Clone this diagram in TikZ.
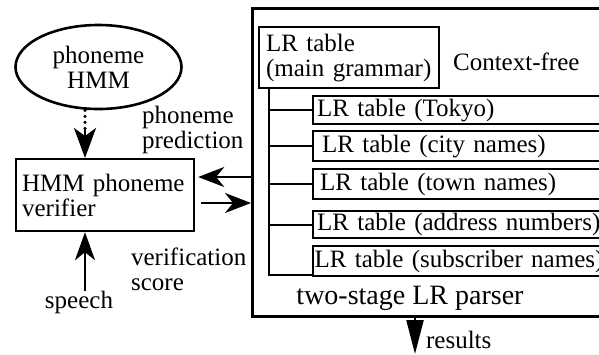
\documentclass[tikz,border=0pt]{standalone}
\usepackage{fontspec}
\setmainfont{Liberation Serif}
\usetikzlibrary{arrows.meta,shapes.geometric}
\begin{document}
\begin{tikzpicture}[x=1pt,y=-1pt,line width=2.2pt,
  txt/.style={font=\fontsize{25}{25}\selectfont,inner sep=0pt,align=left},
  box/.style={draw,rectangle,txt},
  subtab/.style={box,anchor=north west,text width=300pt,inner xsep=4pt,inner ysep=0pt},
  arr/.style={-{Stealth[length=26pt,width=20pt,inset=8pt]}},
]
\useasboundingbox (0,0) rectangle (599,354);
\clip (0,0) rectangle (599,354);

% two-stage LR parser (right half)
\node[draw,line width=2.6pt,rectangle,anchor=north west,minimum width=380pt,
      minimum height=308pt,inner sep=0pt] (parser) at (251,7) {};
\node[box,anchor=north west,text width=166pt,inner xsep=7pt,minimum height=61pt]
      (main) at (258,26) {LR table\\(main grammar)};
\node[txt,anchor=west] (cf) at (452,62) {Context-free};
\node[subtab,minimum height=28pt] (tokyo)   at (312,95)  {LR table (Tokyo)};
\node[subtab,minimum height=30pt] (city)    at (312,130) {\hspace*{5pt}LR table (city names)};
\node[subtab,minimum height=30pt] (town)    at (312,168) {\hspace*{3pt}LR table (town names)};
\node[subtab,minimum height=27pt] (address) at (312,210) {LR table (address numbers)};
\node[subtab,minimum height=30pt] (subscr)  at (312,245) {\hspace*{-2.5pt}LR table (subscriber names)};
\node[txt,font=\fontsize{28}{28}\selectfont] (title) at (410,298) {two-stage LR parser};

% tree joining the sub-grammar tables to the main grammar
\coordinate (tx) at (269,0);
\draw (main.south -| tx) |- ([yshift=2pt]subscr.south west);
\foreach \b in {tokyo,city,town,address} \draw (\b.west) -- (\b.west -| tx);

% left half: phoneme model and verifier
\node[draw,ellipse,line width=2.6pt,minimum width=166pt,minimum height=84pt,
      txt,align=center] (hmm) at (98.5,67) {phoneme\\HMM};
\node[box,anchor=north west,text width=166pt,inner xsep=6pt,minimum height=72pt]
      (ver) at (15,158) {HMM~phoneme\\verifier};
\coordinate (va) at (85,0);
\draw[line width=3.5pt,line cap=round,dash pattern=on 0pt off 6pt]
      (hmm.south -| va) -- ([yshift=28pt]ver.north -| va);
\draw[-{Stealth[length=30pt,width=22pt,inset=8pt]}]
      ([yshift=30pt]ver.north -| va) -- (ver.north -| va);

\node[txt] (sp) at (79,302) {speech};
\draw[-{Stealth[length=28pt,width=20pt,inset=8pt]}]
      ([yshift=-1pt]sp.north -| va) -- (ver.south -| va);

% prediction / verification exchange
\coordinate (ya) at (0,177);
\coordinate (yb) at (0,203);
\draw[arr,shorten >=3pt] (parser.west |- ya) -- (ver.east |- ya);
\draw[arr,shorten <=6pt] (ver.east |- yb) -- (parser.west |- yb);
\node[txt,anchor=west] (pred) at (141,129.5) {phoneme\\prediction};
\node[txt,anchor=west] (score) at (130,269.5) {verification\\score};

% output
\coordinate (rx) at (415,0);
\coordinate (res) at (415,354);
\draw[-{Triangle[length=34pt,width=17pt]}] (parser.south -| rx) -- (res);
\node[txt,anchor=west] (reslbl) at (425,340) {results};
\end{tikzpicture}
\end{document}
